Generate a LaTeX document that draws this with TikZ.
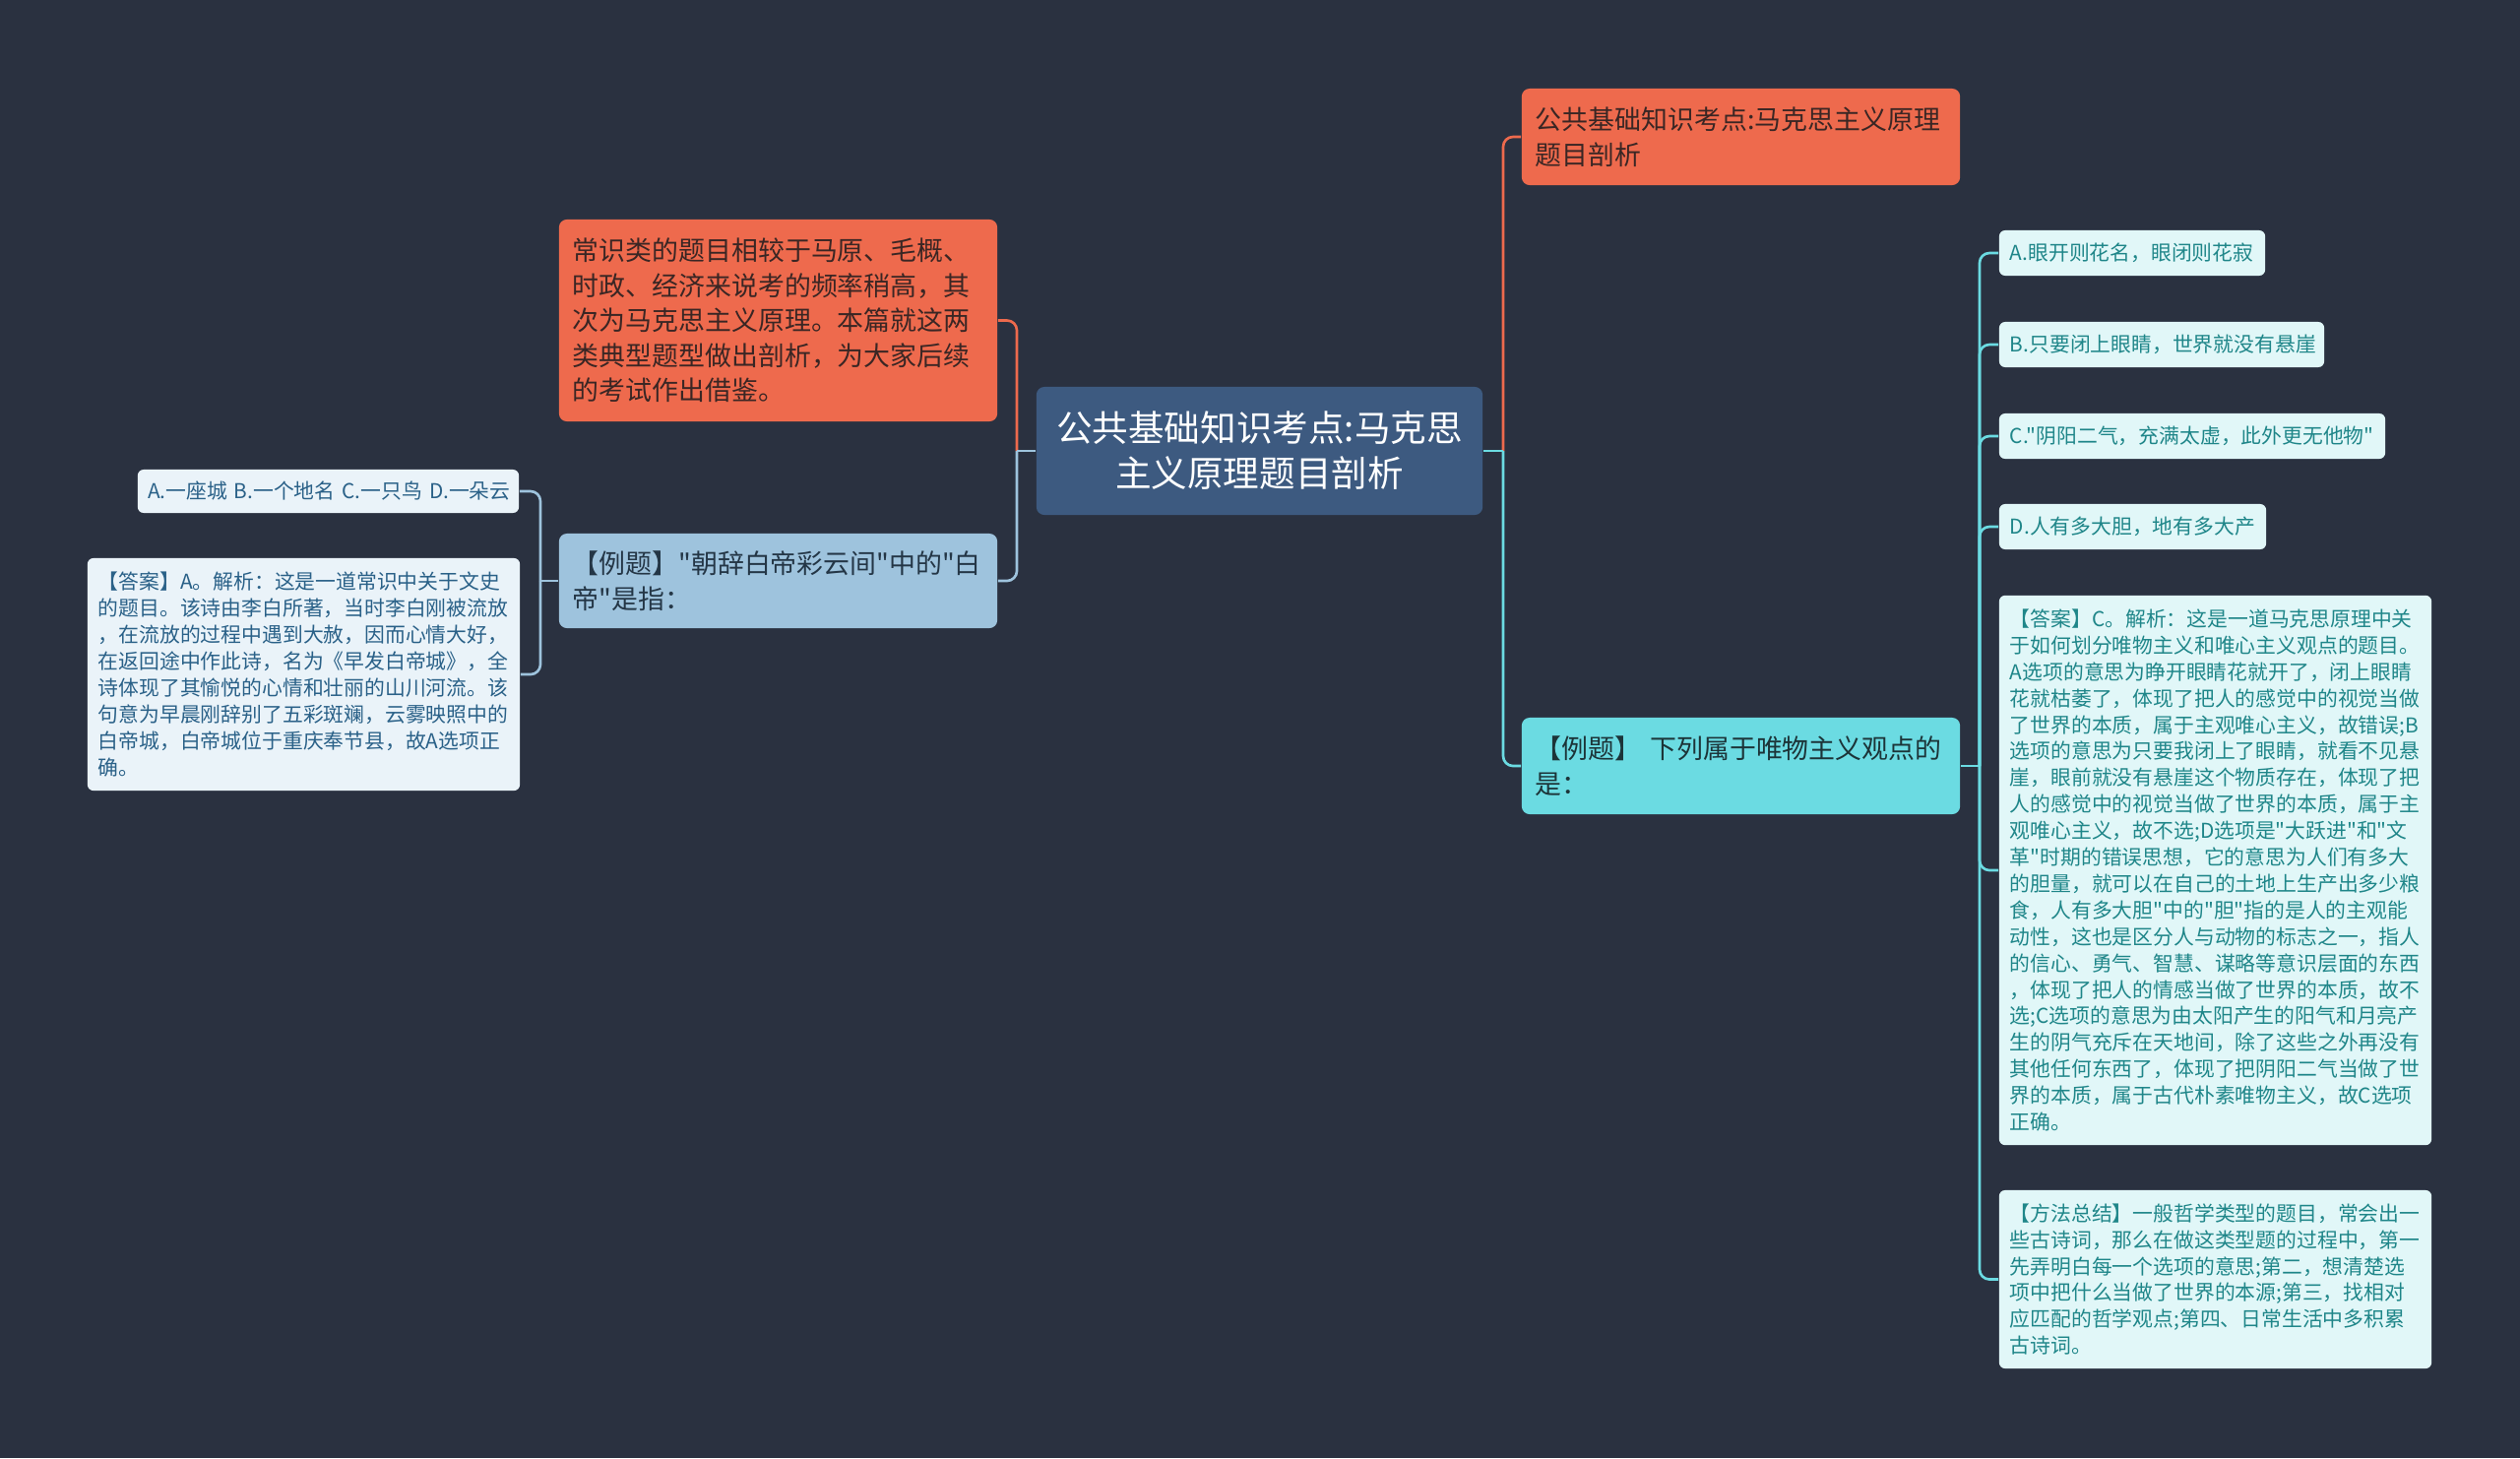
\documentclass[tikz,border=0pt]{standalone}
\usepackage{fontspec}
\setmainfont{Noto Sans CJK SC}[Ligatures=TeXOff]
\definecolor{bgc}{HTML}{2A3140}
\definecolor{cenc}{HTML}{3D5A80}
\definecolor{orc}{HTML}{EE6A4D}
\definecolor{ortx}{HTML}{3A2624}
\definecolor{lbc}{HTML}{9EC3DD}
\definecolor{lbtx}{HTML}{243646}
\definecolor{cyc}{HTML}{6BDBE2}
\definecolor{cytx}{HTML}{1C3438}
\definecolor{lfill}{HTML}{EAF3F9}
\definecolor{ltx}{HTML}{2A6188}
\definecolor{rfill}{HTML}{E1F7F8}
\definecolor{rtx}{HTML}{1F8689}
\newcommand\FsCen{\fontsize{10.4pt}{13.1pt}\selectfont}
\newcommand\FsBig{\fontsize{7.65pt}{10.1pt}\selectfont}
\newcommand\FsSml{\fontsize{5.92pt}{7.65pt}\selectfont}
\tikzset{
  boxbase/.style={rounded corners=0.08cm, inner ysep=0pt, align=left},
  cenbox/.style={boxbase, fill=cenc, text=white, font=\FsCen, align=center, inner xsep=0pt},
  orbox/.style={boxbase, fill=orc, text=ortx, font=\FsBig},
  lbbox/.style={boxbase, fill=lbc, text=lbtx, font=\FsBig},
  cybox/.style={boxbase, fill=cyc, text=cytx, font=\FsBig},
  lsmall/.style={boxbase, rounded corners=0.06cm, fill=lfill, text=ltx, font=\FsSml},
  rsmall/.style={boxbase, rounded corners=0.06cm, fill=rfill, text=rtx, font=\FsSml},
  link/.style={line width=0.75pt, rounded corners=0.1cm},
}
\begin{document}
\begin{tikzpicture}[x=0.01cm,y=-0.01cm]
\useasboundingbox (0,0) rectangle (2560,1481);
\fill[bgc] (0,0) rectangle (2560,1481);

% nodes
\node[cenbox, minimum width=4.53cm, minimum height=1.30cm, text width=4.4cm] (cen) at (1279.5,458)
  {公共基础知识考点:马克思\\主义原理题目剖析};
\node[orbox, minimum width=4.45cm, minimum height=2.05cm, text width=4.17cm, inner xsep=0.14cm] (tl) at (790.5,325.5)
  {常识类的题目相较于马原、毛概、\\时政、经济来说考的频率稍高，其\\次为马克思主义原理。本篇就这两\\类典型题型做出剖析，为大家后续\\的考试作出借鉴。};
\node[lbbox, minimum width=4.45cm, minimum height=0.96cm, text width=4.17cm, inner xsep=0.14cm] (exL) at (790.5,590)
  {【例题】"朝辞白帝彩云间"中的"白\\帝"是指：};
\node[lsmall, minimum width=3.87cm, minimum height=0.44cm, text width=3.7cm, inner xsep=0.085cm, align=right] (optL) at (333.5,499)
  {A.一座城 B.一个地名 C.一只鸟 D.一朵云};
\node[lsmall, minimum width=4.39cm, minimum height=2.36cm, text width=4.17cm, inner xsep=0.11cm] (ansL) at (308.5,685)
  {【答案】A。解析：这是一道常识中关于文史\\的题目。该诗由李白所著，当时李白刚被流放\\，在流放的过程中遇到大赦，因而心情大好，\\在返回途中作此诗，名为《早发白帝城》，全\\诗体现了其愉悦的心情和壮丽的山川河流。该\\句意为早晨刚辞别了五彩斑斓，云雾映照中的\\白帝城，白帝城位于重庆奉节县，故A选项正\\确。};
\node[orbox, minimum width=4.45cm, minimum height=0.98cm, text width=4.17cm, inner xsep=0.14cm] (tr) at (1768.5,139)
  {公共基础知识考点:马克思主义原理\\题目剖析};
\node[cybox, minimum width=4.45cm, minimum height=0.98cm, text width=4.17cm, inner xsep=0.14cm] (exR) at (1768.5,778)
  {【例题】 下列属于唯物主义观点的\\是：};
\node[rsmall, minimum width=2.70cm, minimum height=0.46cm, text width=2.48cm, inner xsep=0.11cm] (oA) at (2166,257)
  {A.眼开则花名，眼闭则花寂};
\node[rsmall, minimum width=3.30cm, minimum height=0.46cm, text width=3.08cm, inner xsep=0.11cm] (oB) at (2196,350)
  {B.只要闭上眼睛，世界就没有悬崖};
\node[rsmall, minimum width=3.92cm, minimum height=0.46cm, text width=3.70cm, inner xsep=0.11cm] (oC) at (2227,443)
  {C."阴阳二气，充满太虚，此外更无他物"};
\node[rsmall, minimum width=2.71cm, minimum height=0.46cm, text width=2.49cm, inner xsep=0.11cm] (oD) at (2166.5,535)
  {D.人有多大胆，地有多大产};
\node[rsmall, minimum width=4.39cm, minimum height=5.58cm, text width=4.17cm, inner xsep=0.11cm] (ansR) at (2250.5,884)
  {【答案】C。解析：这是一道马克思原理中关\\于如何划分唯物主义和唯心主义观点的题目。\\A选项的意思为睁开眼睛花就开了，闭上眼睛\\花就枯萎了，体现了把人的感觉中的视觉当做\\了世界的本质，属于主观唯心主义，故错误;B\\选项的意思为只要我闭上了眼睛，就看不见悬\\崖，眼前就没有悬崖这个物质存在，体现了把\\人的感觉中的视觉当做了世界的本质，属于主\\观唯心主义，故不选;D选项是"大跃进"和"文\\革"时期的错误思想，它的意思为人们有多大\\的胆量，就可以在自己的土地上生产出多少粮\\食，人有多大胆"中的"胆"指的是人的主观能\\动性，这也是区分人与动物的标志之一，指人\\的信心、勇气、智慧、谋略等意识层面的东西\\，体现了把人的情感当做了世界的本质，故不\\选;C选项的意思为由太阳产生的阳气和月亮产\\生的阴气充斥在天地间，除了这些之外再没有\\其他任何东西了，体现了把阴阳二气当做了世\\界的本质，属于古代朴素唯物主义，故C选项\\正确。};
\node[rsmall, minimum width=4.39cm, minimum height=1.81cm, text width=4.17cm, inner xsep=0.11cm] (meth) at (2250.5,1299.5)
  {【方法总结】一般哲学类型的题目，常会出一\\些古诗词，那么在做这类型题的过程中，第一\\先弄明白每一个选项的意思;第二，想清楚选\\项中把什么当做了世界的本源;第三，找相对\\应匹配的哲学观点;第四、日常生活中多积累\\古诗词。};

% junctions
\coordinate (jC1) at (1033,458);
\coordinate (jC2) at (1527,458);
\coordinate (jL) at (549,590);
\coordinate (jR) at (2011,778);

% connectors centre-left
\draw[link, orc] (jC1) |- (tl.east);
\draw[link, lbc] (jC1) |- (exL.east);
\draw[link, lbc] (cen.west) -- (jC1);
% centre-right
\draw[link, orc] (jC2) |- (tr.west);
\draw[link, cyc] (jC2) |- (exR.west);
\draw[link, cyc] (cen.east) -- (jC2);
% left example
\draw[link, lbc] (jL) |- (optL.east);
\draw[link, lbc] (jL) |- (ansL.east);
\draw[link, lbc] (exL.west) -- (jL);
% right example
\foreach \n in {oA,oB,oC,oD,ansR,meth}
  \draw[link, cyc] (jR) |- (\n.west);
\draw[link, cyc] (exR.east) -- (jR);
\end{tikzpicture}
\end{document}
